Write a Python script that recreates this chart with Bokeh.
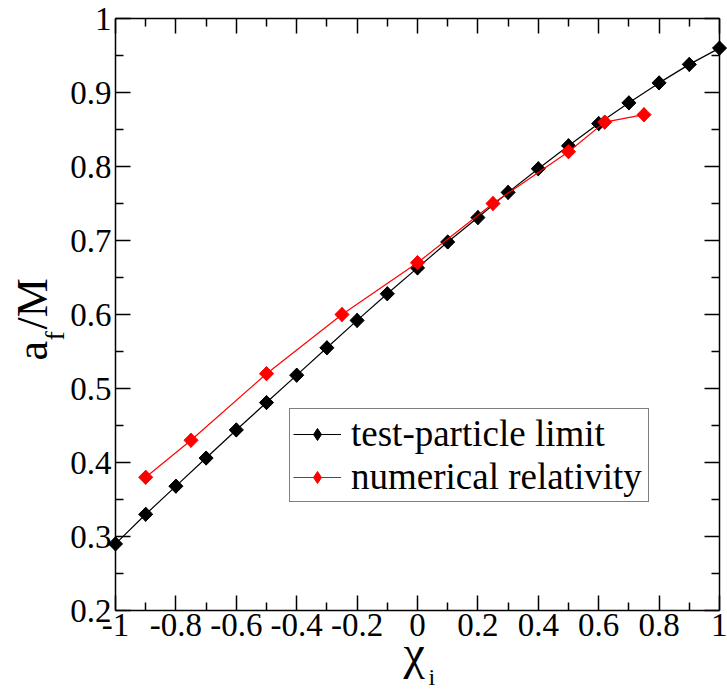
import math
from bokeh.plotting import figure
from bokeh.models import (Range1d, FixedTicker, LinearAxis, Legend, LegendItem, Label)
from bokeh.embed import file_html
from bokeh.resources import INLINE

# test-particle limit
chi_tp = [-1.0, -0.9, -0.8, -0.7, -0.6, -0.5, -0.4, -0.3, -0.2, -0.1, 0.0,
          0.1, 0.2, 0.3, 0.4, 0.5, 0.6, 0.7, 0.8, 0.9, 1.0]
af_tp = [0.290, 0.330, 0.368, 0.406, 0.444, 0.481, 0.518, 0.555, 0.592, 0.628, 0.663,
         0.698, 0.731, 0.765, 0.797, 0.828, 0.858, 0.886, 0.913, 0.938, 0.960]

# numerical relativity
chi_nr = [-0.9, -0.75, -0.5, -0.25, 0.0, 0.25, 0.5, 0.62, 0.75]
af_nr = [0.38, 0.43, 0.52, 0.60, 0.67, 0.75, 0.82, 0.86, 0.87]

x_ticks = [-1.0, -0.8, -0.6, -0.4, -0.2, 0.0, 0.2, 0.4, 0.6, 0.8, 1.0]
x_tick_labels = ["-1", "-0.8", "-0.6", "-0.4", "-0.2", "0", "0.2", "0.4", "0.6", "0.8", "1"]
x_minor = [-0.9, -0.7, -0.5, -0.3, -0.1, 0.1, 0.3, 0.5, 0.7, 0.9]
y_ticks = [0.2, 0.3, 0.4, 0.5, 0.6, 0.7, 0.8, 0.9, 1.0]
y_tick_labels = ["0.2", "0.3", "0.4", "0.5", "0.6", "0.7", "0.8", "0.9", "1"]
y_minor = [0.25, 0.35, 0.45, 0.55, 0.65, 0.75, 0.85, 0.95]

X_MIN, X_MAX = -1.0, 1.0
Y_MIN, Y_MAX = 0.2, 1.0

FONT = "Liberation Serif"

# layout in pixels: the canvas is the frame; the data box sits inside it
W, H = 727, 689
BOX_L, BOX_R, BOX_T, BOX_B = 115, 719, 18, 610
xs = (X_MAX - X_MIN) / (BOX_R - BOX_L)
ys = (Y_MAX - Y_MIN) / (BOX_B - BOX_T)
x_range = Range1d(X_MIN - BOX_L * xs, X_MAX + (W - BOX_R) * xs)
y_range = Range1d(Y_MIN - (H - BOX_B) * ys, Y_MAX + BOX_T * ys)

p = figure(width=W, height=H, output_backend="svg", toolbar_location=None,
           x_range=x_range, y_range=y_range,
           x_axis_location=None, y_axis_location=None,
           min_border=0, min_border_left=0, min_border_right=0,
           min_border_top=0, min_border_bottom=0)
p.grid.visible = False
p.outline_line_color = None
p.background_fill_color = "white"
p.border_fill_color = "white"


def make_axis(loc, bounds, ticks, minor, labels, show_labels, standoff):
    ax = LinearAxis(fixed_location=loc, bounds=bounds)
    ax.ticker = FixedTicker(ticks=ticks, minor_ticks=minor)
    if show_labels:
        ax.major_label_overrides = {t: l for t, l in zip(ticks, labels)}
        ax.major_label_text_font_size = "33px"
        ax.major_label_standoff = standoff
    else:
        ax.major_label_overrides = {t: "" for t in ticks}
        ax.major_label_standoff = 0
    ax.major_tick_in = 15
    ax.major_tick_out = 0
    ax.minor_tick_in = 8
    ax.minor_tick_out = 0
    ax.major_tick_line_color = "black"
    ax.minor_tick_line_color = "black"
    ax.major_tick_line_width = 1.5
    ax.minor_tick_line_width = 1.5
    ax.axis_line_color = "black"
    ax.axis_line_width = 1.5
    ax.major_label_text_font = FONT
    ax.major_label_text_color = "black"
    return ax


p.add_layout(make_axis(Y_MIN, (X_MIN, X_MAX), x_ticks, x_minor, x_tick_labels, True, 3), "below")
p.add_layout(make_axis(X_MIN, (Y_MIN, Y_MAX), y_ticks, y_minor, y_tick_labels, True, 4), "left")
p.add_layout(make_axis(Y_MAX, (X_MIN, X_MAX), x_ticks, x_minor, x_tick_labels, False, 0), "above")
p.add_layout(make_axis(X_MAX, (Y_MIN, Y_MAX), y_ticks, y_minor, y_tick_labels, False, 0), "right")

# diamond markers used for the legend glyphs (hidden under the plotted markers)
d_tp = p.scatter(chi_tp, af_tp, marker="diamond", size=14, fill_color="black", line_color="black")
d_nr = p.scatter(chi_nr, af_nr, marker="diamond", size=14, fill_color="red", line_color="red")

l_tp = p.line(chi_tp, af_tp, line_color="black", line_width=1.2)
s_tp = p.scatter(chi_tp, af_tp, marker="square", angle=math.pi / 4, size=10,
                 fill_color="black", line_color="black")
l_nr = p.line(chi_nr, af_nr, line_color="red", line_width=1.2)
s_nr = p.scatter(chi_nr, af_nr, marker="square", angle=math.pi / 4, size=10,
                 fill_color="red", line_color="red")

legend = Legend(items=[
    LegendItem(label="test-particle limit", renderers=[l_tp, d_tp]),
    LegendItem(label="numerical relativity", renderers=[l_nr, d_nr]),
], location=(289, 187))
legend.label_text_font = FONT
legend.label_text_font_size = "37px"
legend.label_text_color = "black"
legend.border_line_color = "black"
legend.border_line_width = 1
legend.background_fill_color = "white"
legend.background_fill_alpha = 1
legend.padding = 3
legend.spacing = 0
legend.margin = 0
legend.glyph_width = 48
legend.glyph_height = 30
legend.label_standoff = 10
legend.label_height = 38
legend.label_width = 294
p.add_layout(legend, "center")


def add_label(text, x, y, size, angle=0.0):
    p.add_layout(Label(text=text, x=x, y=y, x_units="screen", y_units="screen",
                       angle=angle, text_font=FONT, text_font_size=size,
                       text_color="black", text_align="left",
                       text_baseline="alphabetic"))


# y axis title a_f/M (rotated), x axis title chi_i
add_label("a", 32, H - 360, "44px", math.pi / 2)
add_label("f", 54, H - 340, "28px", math.pi / 2)
add_label("/M", 32, H - 329, "44px", math.pi / 2)
add_label("\u03c7", 403, H - 652, "48px")
add_label("i", 428, H - 676, "24px")

open("out.html", "w").write(file_html(p, INLINE))
